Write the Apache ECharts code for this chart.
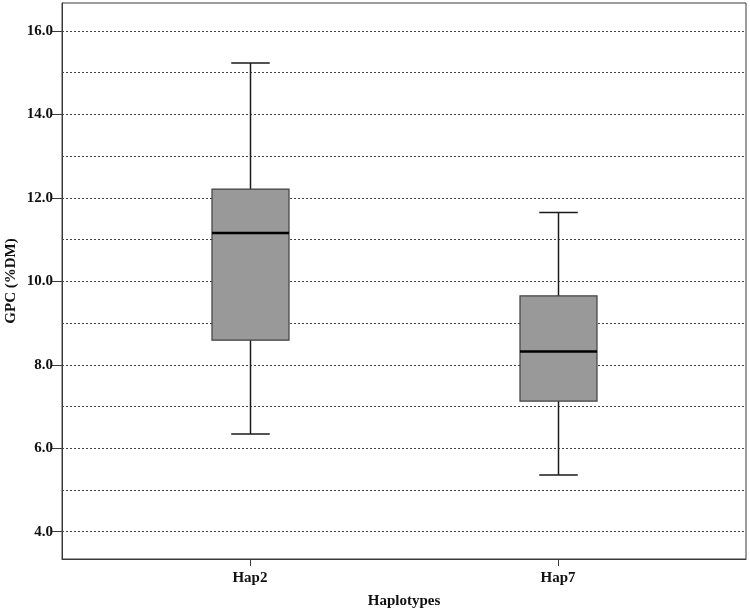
<!DOCTYPE html>
<html><head><meta charset="utf-8">
<script src="https://cdn.jsdelivr.net/npm/echarts@6/dist/echarts.min.js"></script>
<style>html,body{margin:0;padding:0;background:#fff}#c{width:750px;height:610px}</style>
</head><body><div id="c"></div>
<script>
const categories = ['Hap2', 'Hap7'];
const whiskerLow = [6.34, 5.36];
const q1 = [8.59, 7.13];
const median = [11.16, 8.32];
const q3 = [12.21, 9.65];
const whiskerHigh = [15.23, 11.65];
const yTickLabels = [4, 6, 8, 10, 12, 14, 16];
const yGridValues = [4, 5, 6, 7, 8, 9, 10, 11, 12, 13, 14, 15, 16];

const FONT = 'Liberation Serif';
const data = categories.map((c, i) => [i + 1, whiskerLow[i], q1[i], median[i], q3[i], whiskerHigh[i]]);

function renderItem(params, api) {
  const x = api.value(0);
  const lo = api.coord([x, api.value(1)]);
  const b1 = api.coord([x, api.value(2)]);
  const md = api.coord([x, api.value(3)]);
  const b3 = api.coord([x, api.value(4)]);
  const hi = api.coord([x, api.value(5)]);
  const boxW = api.size([0.25, 0])[0];
  const capW = boxW / 2;
  const cx = Math.round(lo[0]) + 0.5;
  const wStyle = { stroke: '#1a1a1a', lineWidth: 1.5 };
  return {
    type: 'group',
    children: [
      { type: 'line', shape: { x1: cx, y1: hi[1], x2: cx, y2: b3[1] }, style: wStyle },
      { type: 'line', shape: { x1: cx, y1: b1[1], x2: cx, y2: lo[1] }, style: wStyle },
      { type: 'line', shape: { x1: cx - capW / 2, y1: hi[1], x2: cx + capW / 2, y2: hi[1] }, style: wStyle },
      { type: 'line', shape: { x1: cx - capW / 2, y1: lo[1], x2: cx + capW / 2, y2: lo[1] }, style: wStyle },
      { type: 'rect', shape: { x: cx - boxW / 2, y: b3[1], width: boxW, height: b1[1] - b3[1] },
        style: { fill: '#999999', stroke: '#404040', lineWidth: 1.2 } },
      { type: 'line', shape: { x1: cx - boxW / 2, y1: md[1], x2: cx + boxW / 2, y2: md[1] },
        style: { stroke: '#000', lineWidth: 2.5 } }
    ]
  };
}

const chart = echarts.init(document.getElementById('c'), null, { renderer: 'canvas' });
chart.setOption({
  animation: false,
  backgroundColor: '#fff',
  grid: { left: 62, top: 3, right: 4, bottom: 51, containLabel: false, outerBoundsMode: 'none',
    show: true, borderColor: '#3a3a3a', borderWidth: 1 },
  xAxis: {
    type: 'value', min: 0.39, max: 2.61,
    name: 'Haplotypes', nameLocation: 'middle', nameGap: 35, nameMoveOverlap: false,
    nameTextStyle: { fontFamily: FONT, fontWeight: 'bold', fontSize: 15, color: '#111' },
    axisLine: { show: true, lineStyle: { color: '#3a3a3a', width: 1 } },
    axisTick: { show: true, length: 7, customValues: [1, 2], lineStyle: { color: '#3a3a3a' } },
    axisLabel: { customValues: [1, 2], margin: 12, formatter: v => categories[Math.round(v) - 1] || '',
      fontFamily: FONT, fontWeight: 'bold', fontSize: 15, color: '#111' },
    splitLine: { show: false }
  },
  yAxis: {
    type: 'value', min: 3.345, max: 16.67,
    name: 'GPC (%DM)', nameLocation: 'middle', nameGap: 43, nameMoveOverlap: false,
    nameTextStyle: { fontFamily: FONT, fontWeight: 'bold', fontSize: 15, color: '#111' },
    axisLine: { show: true, lineStyle: { color: '#3a3a3a', width: 1 } },
    axisTick: { show: true, length: 10, customValues: yTickLabels, lineStyle: { color: '#3a3a3a' } },
    axisLabel: { customValues: yTickLabels, margin: 9, formatter: v => v.toFixed(1),
      fontFamily: FONT, fontWeight: 'bold', fontSize: 15, color: '#111' },
    splitLine: { show: false }
  },
  series: [
    {
      type: 'line', data: [], silent: true,
      markLine: {
        silent: true, symbol: 'none', animation: false,
        label: { show: false },
        lineStyle: { type: [2, 2], color: '#444', width: 1 },
        data: yGridValues.map(v => ({ yAxis: v }))
      }
    },
    {
      type: 'custom', renderItem: renderItem, data: data, z: 5,
      encode: { x: 0, y: [1, 2, 3, 4, 5] }
    }
  ]
});
</script></body></html>
